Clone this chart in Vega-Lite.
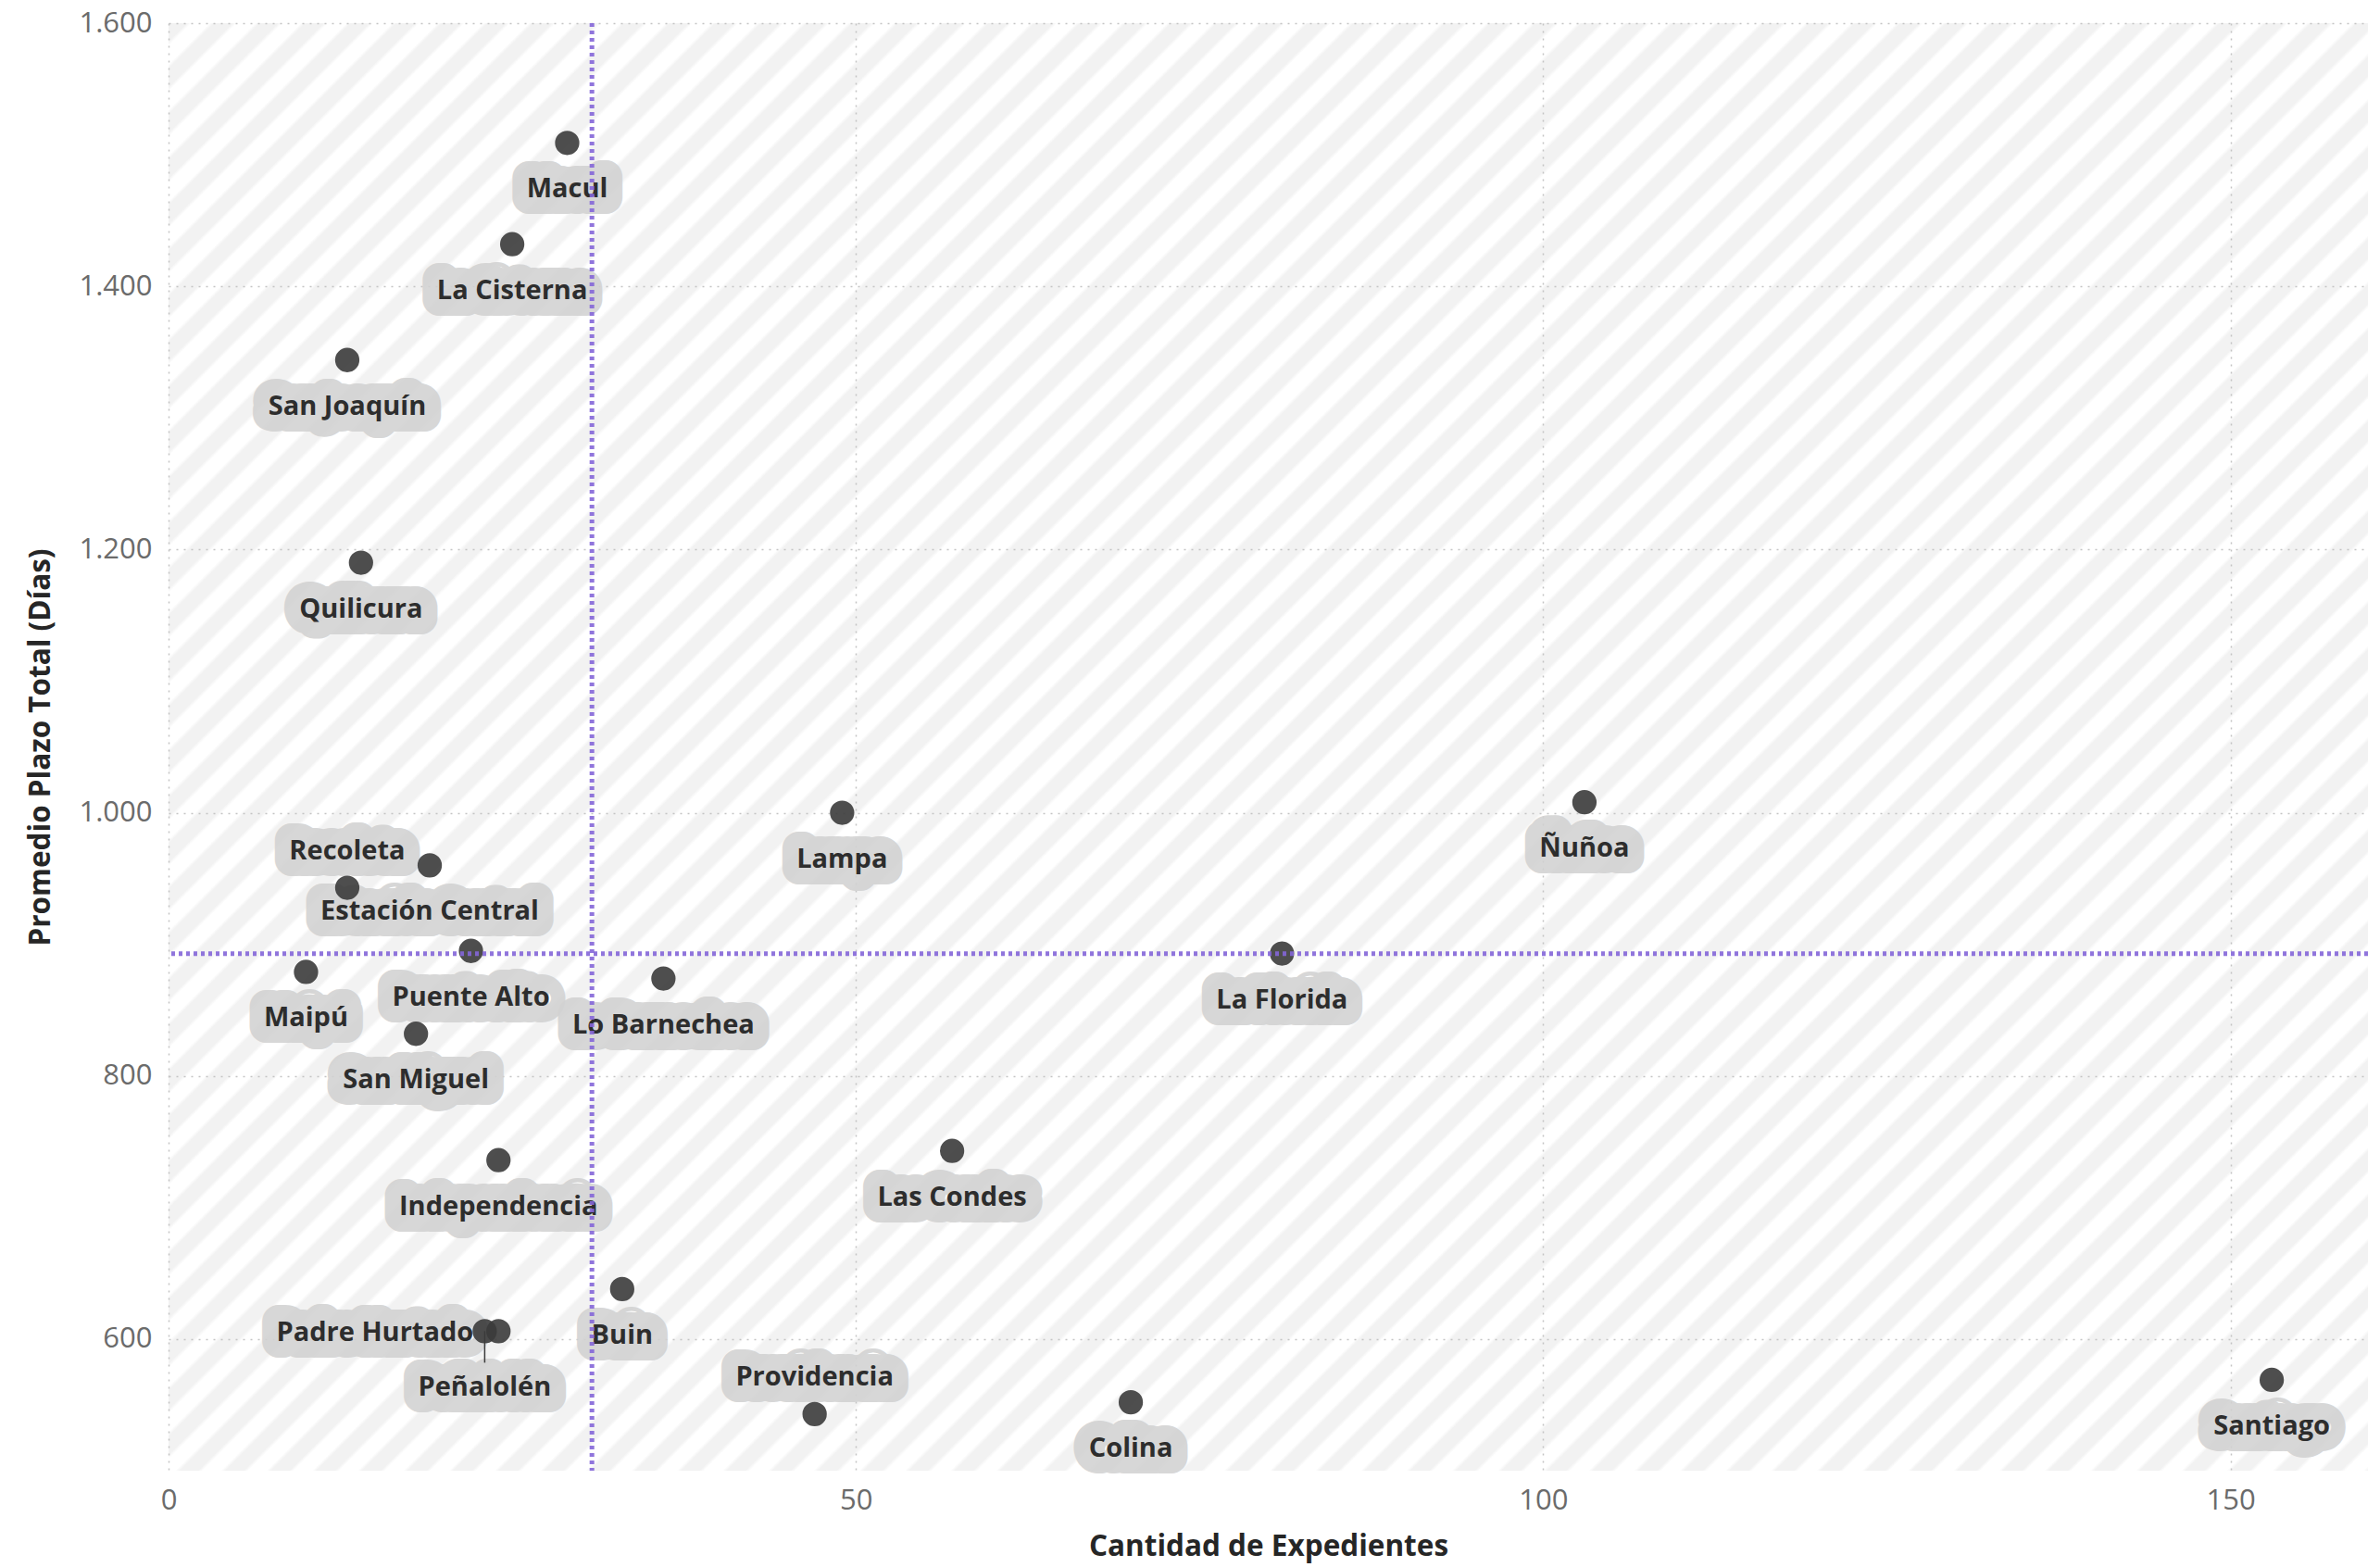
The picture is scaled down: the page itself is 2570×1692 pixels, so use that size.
{
  "$schema": "https://vega.github.io/schema/vega-lite/v6.json",
  "width": 2375,
  "height": 1563,
  "autosize": {"type": "none"},
  "padding": {"left": 182, "top": 25, "right": 13, "bottom": 104},
  "background": "#ffffff",
  "view": {
    "stroke": null,
    "fill": {
      "gradient": "linear",
      "x1": 0, "y1": 0, "x2": 1.157, "y2": 0.7614,
      "stops": [
        {"offset":0,"color":"#f2f2f2"},{"offset":0.005,"color":"#f2f2f2"},{"offset":0.00625,"color":"#fff"},{"offset":0.01125,"color":"#fff"},
        {"offset":0.0125,"color":"#f2f2f2"},{"offset":0.0175,"color":"#f2f2f2"},{"offset":0.01875,"color":"#fff"},{"offset":0.02375,"color":"#fff"},
        {"offset":0.025,"color":"#f2f2f2"},{"offset":0.03,"color":"#f2f2f2"},{"offset":0.03125,"color":"#fff"},{"offset":0.03625,"color":"#fff"},
        {"offset":0.0375,"color":"#f2f2f2"},{"offset":0.0425,"color":"#f2f2f2"},{"offset":0.04375,"color":"#fff"},{"offset":0.04875,"color":"#fff"},
        {"offset":0.05,"color":"#f2f2f2"},{"offset":0.055,"color":"#f2f2f2"},{"offset":0.05625,"color":"#fff"},{"offset":0.06125,"color":"#fff"},
        {"offset":0.0625,"color":"#f2f2f2"},{"offset":0.0675,"color":"#f2f2f2"},{"offset":0.06875,"color":"#fff"},{"offset":0.07375,"color":"#fff"},
        {"offset":0.075,"color":"#f2f2f2"},{"offset":0.08,"color":"#f2f2f2"},{"offset":0.08125,"color":"#fff"},{"offset":0.08625,"color":"#fff"},
        {"offset":0.0875,"color":"#f2f2f2"},{"offset":0.0925,"color":"#f2f2f2"},{"offset":0.09375,"color":"#fff"},{"offset":0.09875,"color":"#fff"},
        {"offset":0.1,"color":"#f2f2f2"},{"offset":0.105,"color":"#f2f2f2"},{"offset":0.10625,"color":"#fff"},{"offset":0.11125,"color":"#fff"},
        {"offset":0.1125,"color":"#f2f2f2"},{"offset":0.1175,"color":"#f2f2f2"},{"offset":0.11875,"color":"#fff"},{"offset":0.12375,"color":"#fff"},
        {"offset":0.125,"color":"#f2f2f2"},{"offset":0.13,"color":"#f2f2f2"},{"offset":0.13125,"color":"#fff"},{"offset":0.13625,"color":"#fff"},
        {"offset":0.1375,"color":"#f2f2f2"},{"offset":0.1425,"color":"#f2f2f2"},{"offset":0.14375,"color":"#fff"},{"offset":0.14875,"color":"#fff"},
        {"offset":0.15,"color":"#f2f2f2"},{"offset":0.155,"color":"#f2f2f2"},{"offset":0.15625,"color":"#fff"},{"offset":0.16125,"color":"#fff"},
        {"offset":0.1625,"color":"#f2f2f2"},{"offset":0.1675,"color":"#f2f2f2"},{"offset":0.16875,"color":"#fff"},{"offset":0.17375,"color":"#fff"},
        {"offset":0.175,"color":"#f2f2f2"},{"offset":0.18,"color":"#f2f2f2"},{"offset":0.18125,"color":"#fff"},{"offset":0.18625,"color":"#fff"},
        {"offset":0.1875,"color":"#f2f2f2"},{"offset":0.1925,"color":"#f2f2f2"},{"offset":0.19375,"color":"#fff"},{"offset":0.19875,"color":"#fff"},
        {"offset":0.2,"color":"#f2f2f2"},{"offset":0.205,"color":"#f2f2f2"},{"offset":0.20625,"color":"#fff"},{"offset":0.21125,"color":"#fff"},
        {"offset":0.2125,"color":"#f2f2f2"},{"offset":0.2175,"color":"#f2f2f2"},{"offset":0.21875,"color":"#fff"},{"offset":0.22375,"color":"#fff"},
        {"offset":0.225,"color":"#f2f2f2"},{"offset":0.23,"color":"#f2f2f2"},{"offset":0.23125,"color":"#fff"},{"offset":0.23625,"color":"#fff"},
        {"offset":0.2375,"color":"#f2f2f2"},{"offset":0.2425,"color":"#f2f2f2"},{"offset":0.24375,"color":"#fff"},{"offset":0.24875,"color":"#fff"},
        {"offset":0.25,"color":"#f2f2f2"},{"offset":0.255,"color":"#f2f2f2"},{"offset":0.25625,"color":"#fff"},{"offset":0.26125,"color":"#fff"},
        {"offset":0.2625,"color":"#f2f2f2"},{"offset":0.2675,"color":"#f2f2f2"},{"offset":0.26875,"color":"#fff"},{"offset":0.27375,"color":"#fff"},
        {"offset":0.275,"color":"#f2f2f2"},{"offset":0.28,"color":"#f2f2f2"},{"offset":0.28125,"color":"#fff"},{"offset":0.28625,"color":"#fff"},
        {"offset":0.2875,"color":"#f2f2f2"},{"offset":0.2925,"color":"#f2f2f2"},{"offset":0.29375,"color":"#fff"},{"offset":0.29875,"color":"#fff"},
        {"offset":0.3,"color":"#f2f2f2"},{"offset":0.305,"color":"#f2f2f2"},{"offset":0.30625,"color":"#fff"},{"offset":0.31125,"color":"#fff"},
        {"offset":0.3125,"color":"#f2f2f2"},{"offset":0.3175,"color":"#f2f2f2"},{"offset":0.31875,"color":"#fff"},{"offset":0.32375,"color":"#fff"},
        {"offset":0.325,"color":"#f2f2f2"},{"offset":0.33,"color":"#f2f2f2"},{"offset":0.33125,"color":"#fff"},{"offset":0.33625,"color":"#fff"},
        {"offset":0.3375,"color":"#f2f2f2"},{"offset":0.3425,"color":"#f2f2f2"},{"offset":0.34375,"color":"#fff"},{"offset":0.34875,"color":"#fff"},
        {"offset":0.35,"color":"#f2f2f2"},{"offset":0.355,"color":"#f2f2f2"},{"offset":0.35625,"color":"#fff"},{"offset":0.36125,"color":"#fff"},
        {"offset":0.3625,"color":"#f2f2f2"},{"offset":0.3675,"color":"#f2f2f2"},{"offset":0.36875,"color":"#fff"},{"offset":0.37375,"color":"#fff"},
        {"offset":0.375,"color":"#f2f2f2"},{"offset":0.38,"color":"#f2f2f2"},{"offset":0.38125,"color":"#fff"},{"offset":0.38625,"color":"#fff"},
        {"offset":0.3875,"color":"#f2f2f2"},{"offset":0.3925,"color":"#f2f2f2"},{"offset":0.39375,"color":"#fff"},{"offset":0.39875,"color":"#fff"},
        {"offset":0.4,"color":"#f2f2f2"},{"offset":0.405,"color":"#f2f2f2"},{"offset":0.40625,"color":"#fff"},{"offset":0.41125,"color":"#fff"},
        {"offset":0.4125,"color":"#f2f2f2"},{"offset":0.4175,"color":"#f2f2f2"},{"offset":0.41875,"color":"#fff"},{"offset":0.42375,"color":"#fff"},
        {"offset":0.425,"color":"#f2f2f2"},{"offset":0.43,"color":"#f2f2f2"},{"offset":0.43125,"color":"#fff"},{"offset":0.43625,"color":"#fff"},
        {"offset":0.4375,"color":"#f2f2f2"},{"offset":0.4425,"color":"#f2f2f2"},{"offset":0.44375,"color":"#fff"},{"offset":0.44875,"color":"#fff"},
        {"offset":0.45,"color":"#f2f2f2"},{"offset":0.455,"color":"#f2f2f2"},{"offset":0.45625,"color":"#fff"},{"offset":0.46125,"color":"#fff"},
        {"offset":0.4625,"color":"#f2f2f2"},{"offset":0.4675,"color":"#f2f2f2"},{"offset":0.46875,"color":"#fff"},{"offset":0.47375,"color":"#fff"},
        {"offset":0.475,"color":"#f2f2f2"},{"offset":0.48,"color":"#f2f2f2"},{"offset":0.48125,"color":"#fff"},{"offset":0.48625,"color":"#fff"},
        {"offset":0.4875,"color":"#f2f2f2"},{"offset":0.4925,"color":"#f2f2f2"},{"offset":0.49375,"color":"#fff"},{"offset":0.49875,"color":"#fff"},
        {"offset":0.5,"color":"#f2f2f2"},{"offset":0.505,"color":"#f2f2f2"},{"offset":0.50625,"color":"#fff"},{"offset":0.51125,"color":"#fff"},
        {"offset":0.5125,"color":"#f2f2f2"},{"offset":0.5175,"color":"#f2f2f2"},{"offset":0.51875,"color":"#fff"},{"offset":0.52375,"color":"#fff"},
        {"offset":0.525,"color":"#f2f2f2"},{"offset":0.53,"color":"#f2f2f2"},{"offset":0.53125,"color":"#fff"},{"offset":0.53625,"color":"#fff"},
        {"offset":0.5375,"color":"#f2f2f2"},{"offset":0.5425,"color":"#f2f2f2"},{"offset":0.54375,"color":"#fff"},{"offset":0.54875,"color":"#fff"},
        {"offset":0.55,"color":"#f2f2f2"},{"offset":0.555,"color":"#f2f2f2"},{"offset":0.55625,"color":"#fff"},{"offset":0.56125,"color":"#fff"},
        {"offset":0.5625,"color":"#f2f2f2"},{"offset":0.5675,"color":"#f2f2f2"},{"offset":0.56875,"color":"#fff"},{"offset":0.57375,"color":"#fff"},
        {"offset":0.575,"color":"#f2f2f2"},{"offset":0.58,"color":"#f2f2f2"},{"offset":0.58125,"color":"#fff"},{"offset":0.58625,"color":"#fff"},
        {"offset":0.5875,"color":"#f2f2f2"},{"offset":0.5925,"color":"#f2f2f2"},{"offset":0.59375,"color":"#fff"},{"offset":0.59875,"color":"#fff"},
        {"offset":0.6,"color":"#f2f2f2"},{"offset":0.605,"color":"#f2f2f2"},{"offset":0.60625,"color":"#fff"},{"offset":0.61125,"color":"#fff"},
        {"offset":0.6125,"color":"#f2f2f2"},{"offset":0.6175,"color":"#f2f2f2"},{"offset":0.61875,"color":"#fff"},{"offset":0.62375,"color":"#fff"},
        {"offset":0.625,"color":"#f2f2f2"},{"offset":0.63,"color":"#f2f2f2"},{"offset":0.63125,"color":"#fff"},{"offset":0.63625,"color":"#fff"},
        {"offset":0.6375,"color":"#f2f2f2"},{"offset":0.6425,"color":"#f2f2f2"},{"offset":0.64375,"color":"#fff"},{"offset":0.64875,"color":"#fff"},
        {"offset":0.65,"color":"#f2f2f2"},{"offset":0.655,"color":"#f2f2f2"},{"offset":0.65625,"color":"#fff"},{"offset":0.66125,"color":"#fff"},
        {"offset":0.6625,"color":"#f2f2f2"},{"offset":0.6675,"color":"#f2f2f2"},{"offset":0.66875,"color":"#fff"},{"offset":0.67375,"color":"#fff"},
        {"offset":0.675,"color":"#f2f2f2"},{"offset":0.68,"color":"#f2f2f2"},{"offset":0.68125,"color":"#fff"},{"offset":0.68625,"color":"#fff"},
        {"offset":0.6875,"color":"#f2f2f2"},{"offset":0.6925,"color":"#f2f2f2"},{"offset":0.69375,"color":"#fff"},{"offset":0.69875,"color":"#fff"},
        {"offset":0.7,"color":"#f2f2f2"},{"offset":0.705,"color":"#f2f2f2"},{"offset":0.70625,"color":"#fff"},{"offset":0.71125,"color":"#fff"},
        {"offset":0.7125,"color":"#f2f2f2"},{"offset":0.7175,"color":"#f2f2f2"},{"offset":0.71875,"color":"#fff"},{"offset":0.72375,"color":"#fff"},
        {"offset":0.725,"color":"#f2f2f2"},{"offset":0.73,"color":"#f2f2f2"},{"offset":0.73125,"color":"#fff"},{"offset":0.73625,"color":"#fff"},
        {"offset":0.7375,"color":"#f2f2f2"},{"offset":0.7425,"color":"#f2f2f2"},{"offset":0.74375,"color":"#fff"},{"offset":0.74875,"color":"#fff"},
        {"offset":0.75,"color":"#f2f2f2"},{"offset":0.755,"color":"#f2f2f2"},{"offset":0.75625,"color":"#fff"},{"offset":0.76125,"color":"#fff"},
        {"offset":0.7625,"color":"#f2f2f2"},{"offset":0.7675,"color":"#f2f2f2"},{"offset":0.76875,"color":"#fff"},{"offset":0.77375,"color":"#fff"},
        {"offset":0.775,"color":"#f2f2f2"},{"offset":0.78,"color":"#f2f2f2"},{"offset":0.78125,"color":"#fff"},{"offset":0.78625,"color":"#fff"},
        {"offset":0.7875,"color":"#f2f2f2"},{"offset":0.7925,"color":"#f2f2f2"},{"offset":0.79375,"color":"#fff"},{"offset":0.79875,"color":"#fff"},
        {"offset":0.8,"color":"#f2f2f2"},{"offset":0.805,"color":"#f2f2f2"},{"offset":0.80625,"color":"#fff"},{"offset":0.81125,"color":"#fff"},
        {"offset":0.8125,"color":"#f2f2f2"},{"offset":0.8175,"color":"#f2f2f2"},{"offset":0.81875,"color":"#fff"},{"offset":0.82375,"color":"#fff"},
        {"offset":0.825,"color":"#f2f2f2"},{"offset":0.83,"color":"#f2f2f2"},{"offset":0.83125,"color":"#fff"},{"offset":0.83625,"color":"#fff"},
        {"offset":0.8375,"color":"#f2f2f2"},{"offset":0.8425,"color":"#f2f2f2"},{"offset":0.84375,"color":"#fff"},{"offset":0.84875,"color":"#fff"},
        {"offset":0.85,"color":"#f2f2f2"},{"offset":0.855,"color":"#f2f2f2"},{"offset":0.85625,"color":"#fff"},{"offset":0.86125,"color":"#fff"},
        {"offset":0.8625,"color":"#f2f2f2"},{"offset":0.8675,"color":"#f2f2f2"},{"offset":0.86875,"color":"#fff"},{"offset":0.87375,"color":"#fff"},
        {"offset":0.875,"color":"#f2f2f2"},{"offset":0.88,"color":"#f2f2f2"},{"offset":0.88125,"color":"#fff"},{"offset":0.88625,"color":"#fff"},
        {"offset":0.8875,"color":"#f2f2f2"},{"offset":0.8925,"color":"#f2f2f2"},{"offset":0.89375,"color":"#fff"},{"offset":0.89875,"color":"#fff"},
        {"offset":0.9,"color":"#f2f2f2"},{"offset":0.905,"color":"#f2f2f2"},{"offset":0.90625,"color":"#fff"},{"offset":0.91125,"color":"#fff"},
        {"offset":0.9125,"color":"#f2f2f2"},{"offset":0.9175,"color":"#f2f2f2"},{"offset":0.91875,"color":"#fff"},{"offset":0.92375,"color":"#fff"},
        {"offset":0.925,"color":"#f2f2f2"},{"offset":0.93,"color":"#f2f2f2"},{"offset":0.93125,"color":"#fff"},{"offset":0.93625,"color":"#fff"},
        {"offset":0.9375,"color":"#f2f2f2"},{"offset":0.9425,"color":"#f2f2f2"},{"offset":0.94375,"color":"#fff"},{"offset":0.94875,"color":"#fff"},
        {"offset":0.95,"color":"#f2f2f2"},{"offset":0.955,"color":"#f2f2f2"},{"offset":0.95625,"color":"#fff"},{"offset":0.96125,"color":"#fff"},
        {"offset":0.9625,"color":"#f2f2f2"},{"offset":0.9675,"color":"#f2f2f2"},{"offset":0.96875,"color":"#fff"},{"offset":0.97375,"color":"#fff"},
        {"offset":0.975,"color":"#f2f2f2"},{"offset":0.98,"color":"#f2f2f2"},{"offset":0.98125,"color":"#fff"},{"offset":0.98625,"color":"#fff"},
        {"offset":0.9875,"color":"#f2f2f2"},{"offset":0.9925,"color":"#f2f2f2"},{"offset":0.99375,"color":"#fff"},{"offset":0.99875,"color":"#fff"},
        {"offset":1,"color":"#f2f2f2"}
      ]
    }
  },
  "config": {
    "font": "Open Sans",
    "axisX": {
      "domain": false, "ticks": false, "grid": true,
      "gridColor": "#c4c4c4", "gridDash": [2, 6], "gridWidth": 1.5,
      "labelFont": "Open Sans", "labelFontSize": 31, "labelColor": "#6b6b6b", "labelPadding": 17, "labelFlush": false,
      "titleFont": "Open Sans", "titleFontSize": 31.5, "titleFontWeight": "bold", "titleColor": "#262626", "titlePadding": 19
    },
    "axisY": {
      "domain": false, "ticks": false, "grid": true,
      "gridColor": "#c4c4c4", "gridDash": [2, 6], "gridWidth": 1.5,
      "labelFont": "Open Sans", "labelFontSize": 31, "labelColor": "#6b6b6b", "labelPadding": 18,
      "titleFont": "Open Sans", "titleFontSize": 31.5, "titleFontWeight": "bold", "titleColor": "#262626", "titlePadding": 24
    }
  },
  "datasets": {
    "comunas": [
      {"comuna": "Macul", "expedientes": 29, "plazo": 1509},
      {"comuna": "La Cisterna", "expedientes": 25, "plazo": 1432},
      {"comuna": "San Joaquín", "expedientes": 13, "plazo": 1344},
      {"comuna": "Quilicura", "expedientes": 14, "plazo": 1190},
      {"comuna": "Lampa", "expedientes": 49, "plazo": 1000},
      {"comuna": "Ñuñoa", "expedientes": 103, "plazo": 1008},
      {"comuna": "Recoleta", "expedientes": 13, "plazo": 943},
      {"comuna": "Estación Central", "expedientes": 19, "plazo": 960},
      {"comuna": "Puente Alto", "expedientes": 22, "plazo": 895},
      {"comuna": "Maipú", "expedientes": 10, "plazo": 879},
      {"comuna": "Lo Barnechea", "expedientes": 36, "plazo": 874},
      {"comuna": "La Florida", "expedientes": 81, "plazo": 893},
      {"comuna": "San Miguel", "expedientes": 18, "plazo": 832},
      {"comuna": "Las Condes", "expedientes": 57, "plazo": 743},
      {"comuna": "Independencia", "expedientes": 24, "plazo": 736},
      {"comuna": "Buin", "expedientes": 33, "plazo": 638},
      {"comuna": "Peñalolén", "expedientes": 23, "plazo": 606},
      {"comuna": "Padre Hurtado", "expedientes": 24, "plazo": 606},
      {"comuna": "Providencia", "expedientes": 47, "plazo": 543},
      {"comuna": "Colina", "expedientes": 70, "plazo": 552},
      {"comuna": "Santiago", "expedientes": 153, "plazo": 569}
    ],
    "promedio_expedientes": [
      {"expedientes": 30.8}
    ]
  },
  "data": {"name": "comunas"},
  "layer": [
    {
      "transform": [{"filter": "indexof(['Recoleta', 'Providencia', 'Padre Hurtado', 'Peñalolén'], datum.comuna) < 0"}],
      "mark": {"type": "text", "font": "Open Sans", "fontWeight": "bold", "fontSize": 29, "baseline": "alphabetic", "dy": 59,
               "fill": "#d2d2d2", "stroke": "#d2d2d2", "strokeWidth": 36, "strokeJoin": "round", "opacity": 0.88},
      "encoding": {
        "x": {"field": "expedientes", "type": "quantitative", "title": "Cantidad de Expedientes"},
        "y": {"field": "plazo", "type": "quantitative", "title": "Promedio Plazo Total (Días)"},
        "text": {"field": "comuna"}
      }
    },
    {
      "transform": [{"filter": "indexof(['Recoleta', 'Providencia'], datum.comuna) >= 0"}],
      "mark": {"type": "text", "font": "Open Sans", "fontWeight": "bold", "fontSize": 29, "baseline": "alphabetic", "dy": -31,
               "fill": "#d2d2d2", "stroke": "#d2d2d2", "strokeWidth": 36, "strokeJoin": "round", "opacity": 0.88},
      "encoding": {
        "x": {"field": "expedientes", "type": "quantitative", "title": "Cantidad de Expedientes"},
        "y": {"field": "plazo", "type": "quantitative", "title": "Promedio Plazo Total (Días)"},
        "text": {"field": "comuna"}
      }
    },
    {
      "transform": [{"filter": "datum.comuna === 'Padre Hurtado'"}],
      "mark": {"type": "text", "font": "Open Sans", "fontWeight": "bold", "fontSize": 29, "baseline": "alphabetic", "align": "right", "dx": -27, "dy": 11,
               "fill": "#d2d2d2", "stroke": "#d2d2d2", "strokeWidth": 36, "strokeJoin": "round", "opacity": 0.88},
      "encoding": {
        "x": {"field": "expedientes", "type": "quantitative", "title": "Cantidad de Expedientes"},
        "y": {"field": "plazo", "type": "quantitative", "title": "Promedio Plazo Total (Días)"},
        "text": {"field": "comuna"}
      }
    },
    {
      "transform": [{"filter": "datum.comuna === 'Peñalolén'"}],
      "mark": {"type": "text", "font": "Open Sans", "fontWeight": "bold", "fontSize": 29, "baseline": "alphabetic", "dy": 70,
               "fill": "#d2d2d2", "stroke": "#d2d2d2", "strokeWidth": 36, "strokeJoin": "round", "opacity": 0.88},
      "encoding": {
        "x": {"field": "expedientes", "type": "quantitative", "title": "Cantidad de Expedientes"},
        "y": {"field": "plazo", "type": "quantitative", "title": "Promedio Plazo Total (Días)"},
        "text": {"field": "comuna"}
      }
    },
    {
      "transform": [{"filter": "datum.comuna === 'Peñalolén'"}],
      "mark": {"type": "rule", "color": "#3a3a3a", "strokeWidth": 1.5, "y2Offset": 34},
      "encoding": {
        "x": {"field": "expedientes", "type": "quantitative", "title": "Cantidad de Expedientes"},
        "y": {"field": "plazo", "type": "quantitative", "title": "Promedio Plazo Total (Días)"},
        "y2": {"field": "plazo"}
      }
    },
    {
      "mark": {"type": "point", "filled": true, "size": 690, "color": "#3b3b3b", "opacity": 0.9},
      "encoding": {
        "x": {
          "field": "expedientes", "type": "quantitative", "title": "Cantidad de Expedientes",
          "scale": {"domain": [0, 160], "nice": false, "zero": false},
          "axis": {"values": [0, 50, 100, 150]}
        },
        "y": {
          "field": "plazo", "type": "quantitative", "title": "Promedio Plazo Total (Días)",
          "scale": {"domain": [500, 1600], "nice": false, "zero": false},
          "axis": {"values": [600, 800, 1000, 1200, 1400, 1600], "labelExpr": "replace(format(datum.value, ','), ',', '.')"}
        }
      }
    },
    {
      "transform": [{"filter": "indexof(['Recoleta', 'Providencia', 'Padre Hurtado', 'Peñalolén'], datum.comuna) < 0"}],
      "mark": {"type": "text", "font": "Open Sans", "fontWeight": "bold", "fontSize": 29, "baseline": "alphabetic", "dy": 59, "color": "#2d2d2d"},
      "encoding": {
        "x": {"field": "expedientes", "type": "quantitative", "title": "Cantidad de Expedientes"},
        "y": {"field": "plazo", "type": "quantitative", "title": "Promedio Plazo Total (Días)"},
        "text": {"field": "comuna"}
      }
    },
    {
      "transform": [{"filter": "indexof(['Recoleta', 'Providencia'], datum.comuna) >= 0"}],
      "mark": {"type": "text", "font": "Open Sans", "fontWeight": "bold", "fontSize": 29, "baseline": "alphabetic", "dy": -31, "color": "#2d2d2d"},
      "encoding": {
        "x": {"field": "expedientes", "type": "quantitative", "title": "Cantidad de Expedientes"},
        "y": {"field": "plazo", "type": "quantitative", "title": "Promedio Plazo Total (Días)"},
        "text": {"field": "comuna"}
      }
    },
    {
      "transform": [{"filter": "datum.comuna === 'Padre Hurtado'"}],
      "mark": {"type": "text", "font": "Open Sans", "fontWeight": "bold", "fontSize": 29, "baseline": "alphabetic", "align": "right", "dx": -27, "dy": 11, "color": "#2d2d2d"},
      "encoding": {
        "x": {"field": "expedientes", "type": "quantitative", "title": "Cantidad de Expedientes"},
        "y": {"field": "plazo", "type": "quantitative", "title": "Promedio Plazo Total (Días)"},
        "text": {"field": "comuna"}
      }
    },
    {
      "transform": [{"filter": "datum.comuna === 'Peñalolén'"}],
      "mark": {"type": "text", "font": "Open Sans", "fontWeight": "bold", "fontSize": 29, "baseline": "alphabetic", "dy": 70, "color": "#2d2d2d"},
      "encoding": {
        "x": {"field": "expedientes", "type": "quantitative", "title": "Cantidad de Expedientes"},
        "y": {"field": "plazo", "type": "quantitative", "title": "Promedio Plazo Total (Días)"},
        "text": {"field": "comuna"}
      }
    },
    {
      "mark": {"type": "rule", "color": "#8466d8", "strokeWidth": 5, "strokeDash": [4, 4], "opacity": 0.9},
      "encoding": {
        "y": {"aggregate": "mean", "field": "plazo", "type": "quantitative", "title": "Promedio Plazo Total (Días)"}
      }
    },
    {
      "data": {"name": "promedio_expedientes"},
      "mark": {"type": "rule", "color": "#8466d8", "strokeWidth": 5, "strokeDash": [4, 4], "opacity": 0.9},
      "encoding": {
        "x": {"field": "expedientes", "type": "quantitative", "title": "Cantidad de Expedientes"}
      }
    }
  ]
}
